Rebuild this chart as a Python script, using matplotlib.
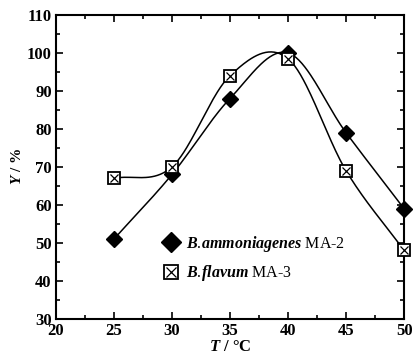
import numpy as np
import matplotlib.pyplot as plt
from matplotlib.ticker import MultipleLocator

plt.rcParams['font.family'] = 'Liberation Serif'
plt.rcParams['mathtext.fontset'] = 'custom'
plt.rcParams['mathtext.it'] = 'Liberation Serif:italic:bold'
plt.rcParams['mathtext.rm'] = 'Liberation Serif'

# data
temps = [25, 30, 35, 40, 45, 50]
y_ammoniagenes = [51, 68, 88, 100, 79, 59]
y_flavum = [67, 70, 94, 98.5, 69, 48]


def smooth_curve(x, y, n=200):
    """Catmull-Rom style cubic through the points, for the smooth guide curves"""
    x = np.asarray(x, float)
    y = np.asarray(y, float)
    h = np.diff(x)
    d = np.zeros_like(y)
    d[1:-1] = (y[2:] - y[:-2]) / (x[2:] - x[:-2])
    d[0] = (y[1] - y[0]) / h[0]
    d[-1] = (y[-1] - y[-2]) / h[-1]
    xs = np.linspace(x[0], x[-1], n)
    idx = np.clip(np.searchsorted(x, xs) - 1, 0, len(x) - 2)
    t = (xs - x[idx]) / h[idx]
    h00 = 2 * t**3 - 3 * t**2 + 1
    h10 = t**3 - 2 * t**2 + t
    h01 = -2 * t**3 + 3 * t**2
    h11 = t**3 - t**2
    ys = (h00 * y[idx] + h10 * h[idx] * d[idx]
          + h01 * y[idx + 1] + h11 * h[idx] * d[idx + 1])
    return xs, ys


fig = plt.figure(figsize=(4.14, 3.64), dpi=100)
ax = fig.add_axes([0.135, 0.124, 0.841, 0.835])

xs, ys = smooth_curve(temps, y_ammoniagenes)
ax.plot(xs, ys, color='black', lw=1.1)
xs, ys = smooth_curve(temps, y_flavum)
ax.plot(xs, ys, color='black', lw=1.1)

h1, = ax.plot(temps, y_ammoniagenes, 'D', color='black', ms=8.5, clip_on=False, zorder=3)
h2a, = ax.plot(temps, y_flavum, 's', mfc='white', mec='black', mew=1.3, ms=8,
               clip_on=False, zorder=4)
h2b, = ax.plot(temps, y_flavum, 'x', color='black', mew=0.9, ms=5.5,
               clip_on=False, zorder=5)

ax.set_xlim(20, 50)
ax.set_ylim(30, 110)
ax.xaxis.set_major_locator(MultipleLocator(5))
ax.xaxis.set_minor_locator(MultipleLocator(2.5))
ax.yaxis.set_major_locator(MultipleLocator(10))
ax.yaxis.set_minor_locator(MultipleLocator(5))
ax.tick_params(which='both', direction='in', top=True, right=True, width=1.2)
ax.tick_params(which='major', length=5, labelsize=12, pad=3)
ax.tick_params(which='minor', length=3)
for lab in ax.get_xticklabels() + ax.get_yticklabels():
    lab.set_fontweight('bold')
for sp in ax.spines.values():
    sp.set_linewidth(1.5)

ax.set_xlabel(r'$\it{T}$ / °C', fontsize=12, fontweight='bold', labelpad=0)
ax.set_ylabel(r'$\it{Y}$ / %', fontsize=11, fontweight='bold', labelpad=2)

leg = ax.legend([h1, (h2a, h2b)],
                [r'$\mathit{B.\!ammoniagenes}$ MA-2', r'$\mathit{B.\!flavum}$ MA-3'],
                loc='lower left', bbox_to_anchor=(0.265, 0.07), frameon=False,
                fontsize=11.5, handlelength=1.0, handletextpad=0.5, labelspacing=0.6,
                markerscale=1.2)

plt.savefig('out.png', dpi=100)
